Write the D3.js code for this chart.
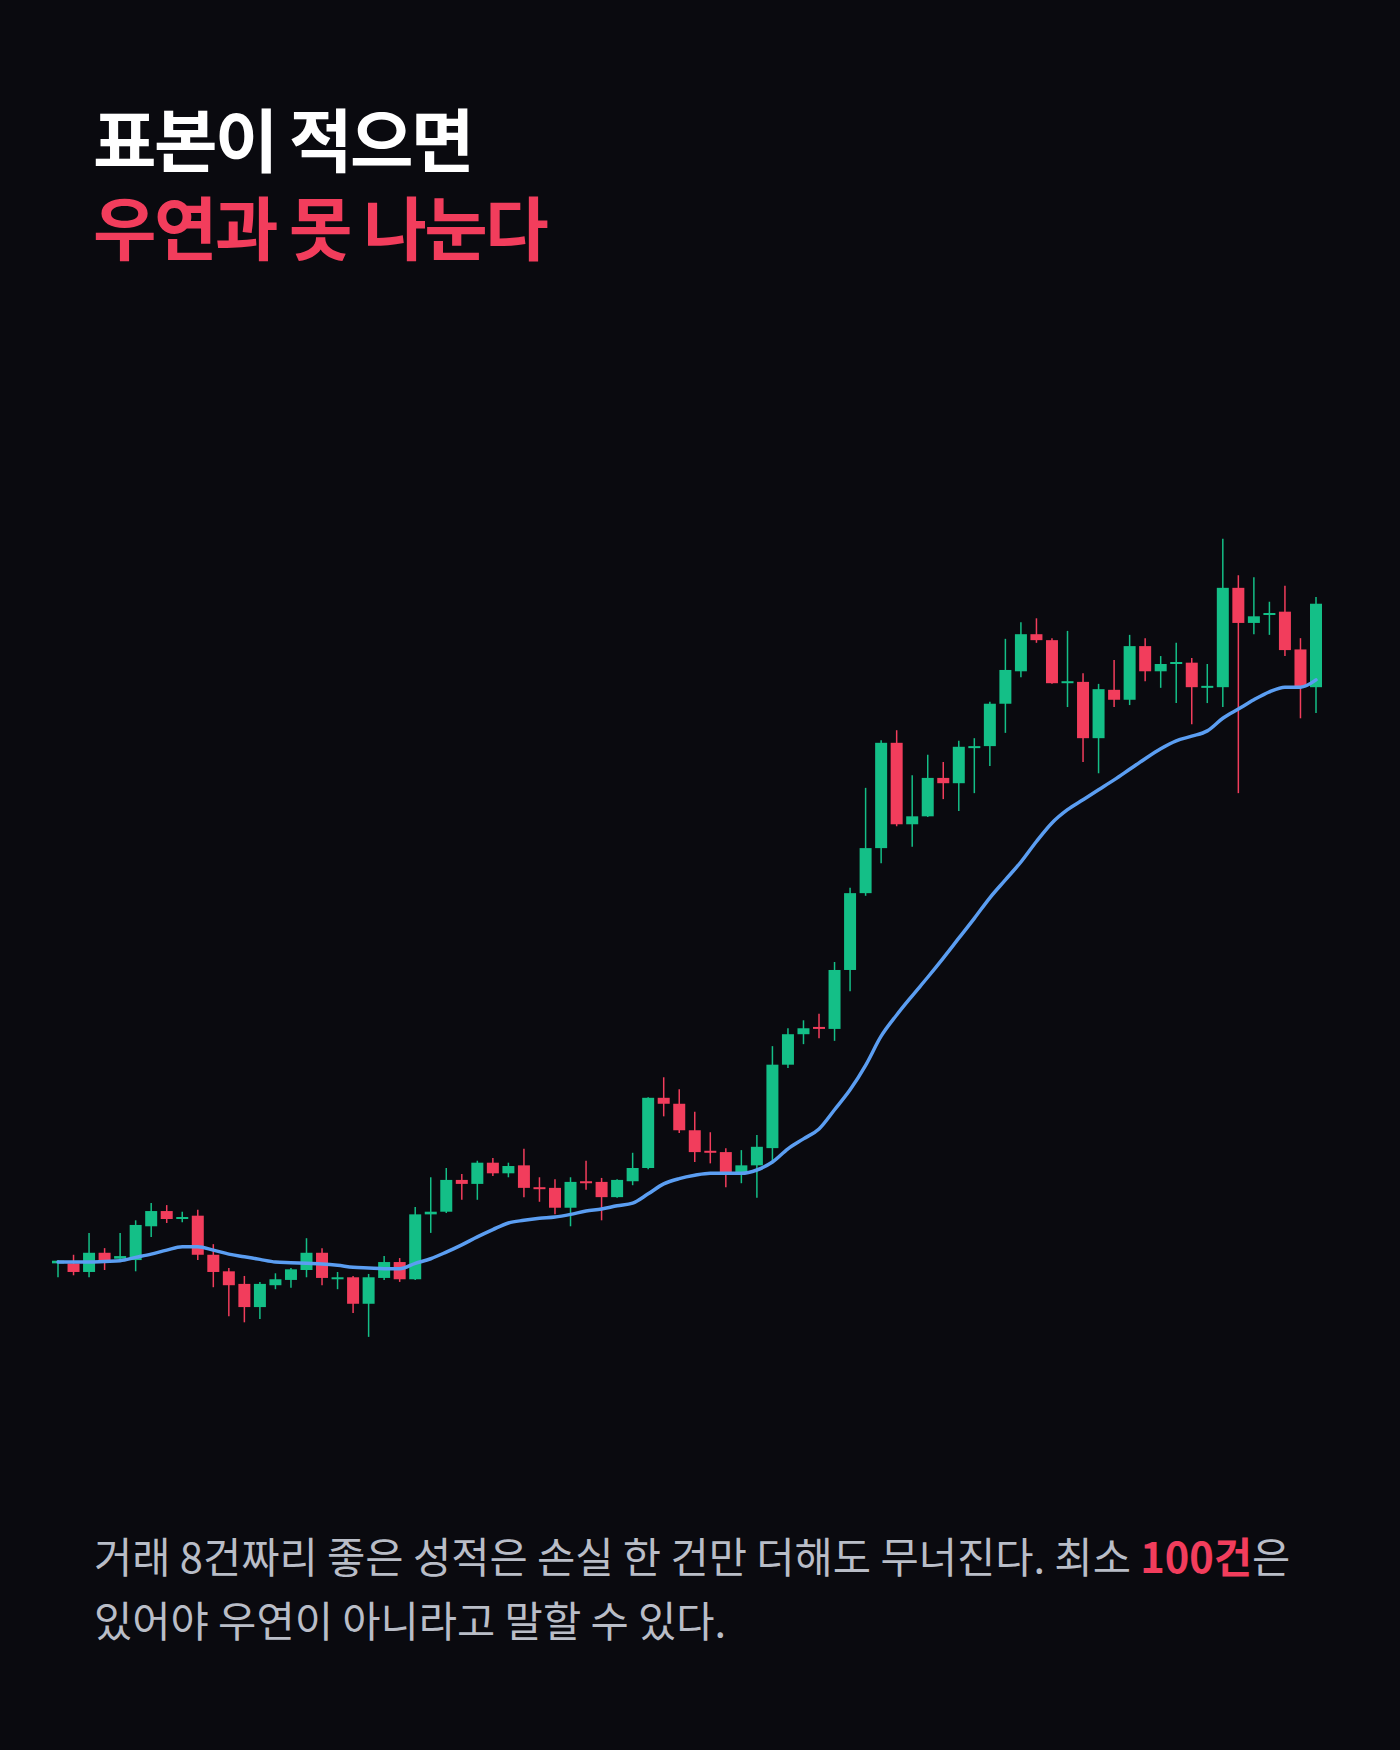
<!DOCTYPE html>
<html>
<head>
<meta charset="utf-8">
<script src="https://cdn.jsdelivr.net/npm/d3@7"></script>
<style>
  html, body { margin: 0; padding: 0; background: #0a0a0f; }
  svg { display: block; }
  .title { font-family: "Noto Sans CJK KR", "Noto Sans", sans-serif; font-weight: 700; }
  .note { font-family: "Noto Sans CJK KR", "Noto Sans", sans-serif; font-weight: 400; }
</style>
</head>
<body>
<svg id="chart" width="1400" height="1750"></svg>
<script>
// 캔들 데이터
var candleOpen = [
  99.8, 99.8, 98.5, 101.4, 100.5, 100.3, 105.4, 107.7, 106.6, 107.0,
  101.1, 98.6, 96.7, 93.2, 96.5, 97.3, 98.8, 101.4, 97.6, 97.7,
  93.7, 97.6, 100.0, 97.4, 107.2, 107.6, 112.4, 111.8, 115.0, 113.4,
  114.6, 111.3, 111.2, 108.2, 112.2, 112.1, 109.8, 112.2, 114.2, 124.8,
  123.9, 119.9, 116.8, 116.6, 113.6, 114.6, 117.2, 129.8, 134.4, 135.5,
  135.2, 144.1, 155.7, 162.5, 178.4, 166.1, 167.3, 173.1, 172.3, 177.6,
  177.9, 184.3, 189.2, 194.8, 193.9, 187.4, 187.6, 179.1, 186.4, 184.9,
  193.0, 189.2, 190.3, 190.5, 186.7, 186.8, 201.8, 196.5, 197.7, 198.2,
  192.5, 186.8
];
var candleHigh = [
  100.3, 101.1, 104.4, 102.1, 104.4, 106.3, 108.9, 108.6, 107.6, 107.9,
  102.7, 99.1, 97.9, 97.0, 98.3, 99.1, 103.6, 102.1, 98.5, 97.9,
  98.2, 100.9, 100.6, 108.3, 112.8, 114.2, 113.3, 115.3, 115.7, 115.0,
  117.1, 112.8, 112.5, 112.8, 115.3, 112.7, 112.5, 116.5, 124.9, 127.9,
  126.1, 122.7, 119.6, 117.2, 116.9, 119.2, 132.6, 135.3, 136.5, 137.5,
  145.3, 156.5, 171.6, 178.8, 180.3, 173.5, 176.6, 175.5, 178.7, 179.1,
  184.6, 194.1, 196.6, 197.2, 194.2, 195.3, 188.9, 187.3, 190.9, 194.7,
  194.2, 191.5, 193.5, 191.2, 190.3, 209.2, 203.7, 203.4, 199.7, 202.1,
  194.2, 200.4
];
var candleLow = [
  97.7, 98.0, 97.7, 98.8, 100.0, 98.6, 103.8, 105.9, 106.0, 100.3,
  96.2, 91.8, 90.9, 91.4, 95.9, 96.1, 97.7, 96.5, 95.9, 92.3,
  88.7, 97.3, 97.0, 97.3, 104.4, 107.4, 109.4, 109.4, 113.0, 112.8,
  109.8, 109.1, 107.2, 105.4, 110.9, 106.3, 109.7, 111.6, 114.0, 122.0,
  119.5, 115.1, 114.9, 111.3, 111.9, 109.7, 114.9, 129.3, 132.9, 133.8,
  133.4, 140.9, 155.3, 160.2, 165.8, 162.7, 167.2, 169.9, 168.1, 170.8,
  174.9, 179.9, 188.3, 193.5, 187.3, 183.8, 175.5, 173.8, 183.8, 184.1,
  187.7, 186.7, 184.4, 181.2, 184.4, 183.8, 170.8, 194.8, 194.7, 191.5,
  182.1, 182.9
];
var candleClose = [
  100.2, 98.5, 101.4, 100.3, 100.9, 105.6, 107.7, 106.5, 106.8, 101.1,
  98.5, 96.5, 93.2, 96.7, 97.4, 98.9, 101.4, 97.6, 97.7, 93.7,
  97.7, 100.0, 97.4, 107.2, 107.6, 112.4, 111.8, 115.0, 113.4, 114.5,
  111.2, 111.0, 108.2, 112.1, 111.9, 109.8, 112.4, 114.2, 124.8, 123.9,
  119.9, 116.6, 116.5, 113.6, 114.6, 117.4, 129.8, 134.4, 135.3, 135.2,
  144.1, 155.7, 162.5, 178.4, 166.1, 167.3, 173.1, 172.3, 177.8, 177.9,
  184.3, 189.4, 194.8, 193.9, 187.4, 187.7, 179.1, 186.5, 184.9, 193.0,
  189.2, 190.3, 190.6, 186.8, 187.0, 201.8, 196.5, 197.5, 198.0, 192.4,
  186.8, 199.4
];
// 이동평균선
var maLine = [
  100.0, 100.0, 100.0, 100.1, 100.2, 100.7, 101.2, 101.8, 102.3, 102.3,
  101.8, 101.2, 100.8, 100.4, 100.0, 99.9, 99.8, 99.7, 99.5, 99.2,
  99.1, 99.0, 99.0, 99.8, 100.5, 101.5, 102.6, 103.8, 104.9, 105.9,
  106.3, 106.6, 106.8, 107.2, 107.7, 108.0, 108.5, 108.9, 110.3, 111.8,
  112.6, 113.1, 113.4, 113.4, 113.4, 113.9, 115.1, 117.1, 118.6, 120.1,
  123.0, 126.0, 129.7, 134.1, 137.3, 140.2, 143.0, 145.9, 148.9, 151.9,
  155.0, 157.7, 160.4, 163.5, 166.3, 168.3, 169.8, 171.3, 172.8, 174.4,
  176.0, 177.5, 178.7, 179.4, 180.2, 182.1, 183.5, 184.9, 186.1, 186.8,
  186.8, 187.9
];

var titleLine1 = "표본이 적으면";
var titleLine2 = "우연과 못 나눈다";
var noteLine1a = "거래 8건짜리 좋은 성적은 손실 한 건만 더해도 무너진다. 최소 ";
var noteLine1b = "100건";
var noteLine1c = "은";
var noteLine2 = "있어야 우연이 아니라고 말할 수 있다.";

var UP = "#14bf87", DOWN = "#f23d5c", MA = "#5b9ef2";

var svg = d3.select("#chart");
svg.append("rect").attr("width",1400).attr("height",1750).attr("fill","#0a0a0f");

// 제목
svg.append("text").attr("class","title").attr("x",93).attr("y",167)
  .attr("font-size",69).attr("letter-spacing","-2.5px").attr("fill","#ffffff").text(titleLine1);
svg.append("text").attr("class","title").attr("x",93).attr("y",255)
  .attr("font-size",69).attr("letter-spacing","-2.5px").attr("fill",DOWN).text(titleLine2);

// 차트
var n = candleOpen.length;
var data = d3.range(n).map(function(i){
  return {i:i, o:candleOpen[i], h:candleHigh[i], l:candleLow[i], c:candleClose[i], ma:maLine[i]};
});
var x = d3.scalePoint().domain(d3.range(n)).range([58, 1316]);
var y = d3.scaleLinear().domain([80, 220]).range([1394.5, 467.3]);
var bodyW = 12;

var gChart = svg.append("g").attr("class","candles");
var g = gChart.selectAll("g").data(data).enter().append("g");
g.append("line")
  .attr("x1",function(d){ return x(d.i); }).attr("x2",function(d){ return x(d.i); })
  .attr("y1",function(d){ return y(d.h); }).attr("y2",function(d){ return y(d.l); })
  .attr("stroke",function(d){ return d.c>=d.o ? UP : DOWN; })
  .attr("stroke-width",1.5);
g.append("rect")
  .attr("x",function(d){ return x(d.i)-bodyW/2; })
  .attr("width",bodyW)
  .attr("y",function(d){ return y(Math.max(d.o,d.c)); })
  .attr("height",function(d){ return Math.max(2, Math.abs(y(d.o)-y(d.c))); })
  .attr("fill",function(d){ return d.c>=d.o ? UP : DOWN; });

var line = d3.line().x(function(d){ return x(d.i); }).y(function(d){ return y(d.ma); }).curve(d3.curveMonotoneX);
svg.append("path").datum(data).attr("d",line)
  .attr("fill","none").attr("stroke",MA).attr("stroke-width",3.5)
  .attr("stroke-linejoin","round").attr("stroke-linecap","round");

// 설명문
var note = svg.append("g").attr("class","note").attr("font-size",41.6).attr("fill","#b9bdc7");
var t1 = note.append("text").attr("x",94).attr("y",1573);
t1.append("tspan").text(noteLine1a);
t1.append("tspan").attr("fill",DOWN).attr("font-weight",700).text(noteLine1b);
t1.append("tspan").text(noteLine1c);
note.append("text").attr("x",94).attr("y",1637).text(noteLine2);
</script>
</body>
</html>
